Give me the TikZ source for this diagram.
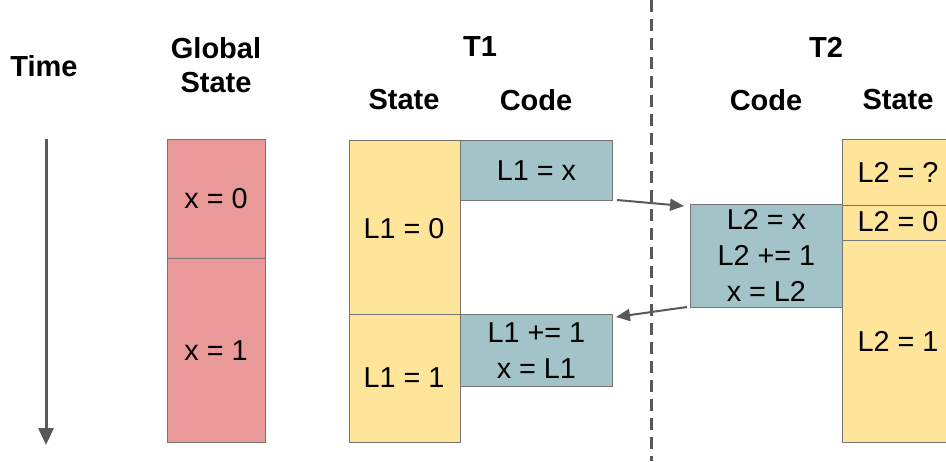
\documentclass[tikz,border=0pt]{standalone}
\usepackage{fontspec}
\setmainfont{Liberation Sans}
\usetikzlibrary{arrows.meta}
\definecolor{gsred}{HTML}{EA9999}
\definecolor{styellow}{HTML}{FFE599}
\definecolor{codeteal}{HTML}{A2C4C9}
\definecolor{edgegray}{HTML}{757575}
\definecolor{arrgray}{HTML}{595959}
\begin{document}
\begin{tikzpicture}[x=1pt,y=-1pt,
  txt/.style={font=\fontsize{28.8}{36}\selectfont, align=center, inner sep=0pt},
  hdr/.style={font=\fontsize{29}{34}\selectfont\bfseries, align=center, inner sep=0pt},
  cell/.style={draw=edgegray, line width=0.8pt},
  conn/.style={draw=arrgray, line width=2pt, -{Triangle[length=14pt,width=12pt]}}]
\clip (0,0) rectangle (946,461);
\fill[white] (0,0) rectangle (946,461);
% dashed separator
\draw[arrgray, line width=3pt, dash pattern=on 12pt off 7pt] (651,0) -- (651,461);
% headers
\node[hdr] (time) at (44,66) {Time};
\node[hdr] (gs) at (216,65) {Global\\State};
\node[hdr] (t1) at (480,47) {T1};
\node[hdr] (t1s) at (404,100) {State};
\node[hdr] (t1c) at (536,100) {Code};
\node[hdr] (t2) at (826,47) {T2};
\node[hdr] (t2c) at (766,100) {Code};
\node[hdr] (t2s) at (898,100) {State};
% time arrow
\coordinate (ta) at (46,139);
\coordinate (tb) at (46,445);
\draw[conn, line width=3pt, -{Triangle[length=17pt,width=15pt]}] (ta) -- (tb);
% global state
\draw[cell, fill=gsred] (167,139) rectangle (265,258);
\draw[cell, fill=gsred] (167,258) rectangle (265,442);
\node[txt] (g0) at (216,199) {x = 0};
\node[txt] (g1) at (216,351) {x = 1};
% T1 state
\draw[cell, fill=styellow] (349,140) rectangle (460,314);
\draw[cell, fill=styellow] (349,314) rectangle (460,442);
\node[txt] (s10) at (404,229) {L1 = 0};
\node[txt] (s11) at (404,378) {L1 = 1};
% T1 code
\node[cell, fill=codeteal, minimum width=152pt, minimum height=60pt, anchor=north west, inner sep=0pt, font=\fontsize{28.8}{36}\selectfont] (c1a) at (460,140) {L1 = x};
\node[cell, fill=codeteal, minimum width=152pt, minimum height=72pt, anchor=north west, inner sep=0pt] (c1b) at (460,314) {};
\node[txt] (c1bt) at (c1b.center) {L1 += 1\\x = L1};
% T2 code
\node[cell, fill=codeteal, minimum width=152pt, minimum height=103pt, anchor=north west, inner sep=0pt] (c2) at (690,204) {};
\node[txt] (c2t) at (c2.center) {L2 = x\\L2 += 1\\x = L2};
% T2 state
\draw[cell, fill=styellow] (842,139) rectangle (953,205);
\draw[cell, fill=styellow] (842,205) rectangle (953,240);
\draw[cell, fill=styellow] (842,240) rectangle (953,442);
\node[txt] (s2q) at (898,172) {L2 = ?};
\node[txt] (s20) at (898,222) {L2 = 0};
\node[txt] (s21) at (898,341) {L2 = 1};
% connectors
\coordinate (a1s) at (617,200);
\coordinate (a1e) at (684,206);
\draw[conn] (a1s) -- (a1e);
\coordinate (a2s) at (687,307);
\coordinate (a2e) at (616,317);
\draw[conn] (a2s) -- (a2e);
\end{tikzpicture}
\end{document}
